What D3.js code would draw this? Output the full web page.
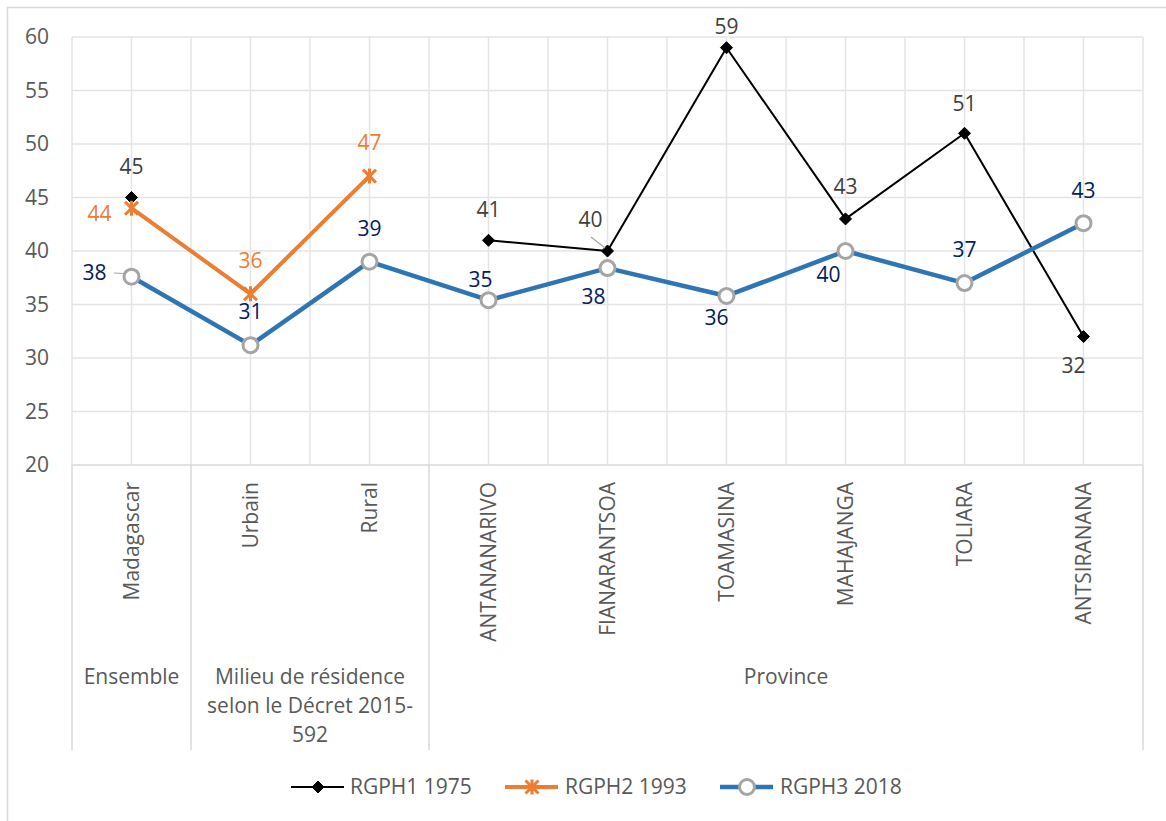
<!DOCTYPE html>
<html>
<head>
<meta charset="utf-8">
<script src="https://cdn.jsdelivr.net/npm/d3@7"></script>
<style>
  html, body { margin: 0; padding: 0; background: #fff; }
  svg { display: block; font-family: "Open Sans", "Noto Sans", sans-serif; }
</style>
</head>
<body>
<svg id="chart" width="1166" height="821"></svg>
<script>
// Categories (first level) and their groups (second level)
const categories = ["Madagascar", "Urbain", "Rural", "ANTANANARIVO", "FIANARANTSOA", "TOAMASINA", "MAHAJANGA", "TOLIARA", "ANTSIRANANA"];
const groupNames = ["Ensemble", "Milieu de résidence selon le Décret 2015-592", "Province"];
const groupSpans = [[0, 1], [1, 3], [3, 9]];

// Series values (null = no data)
const rgph1975 = [45, null, null, 41, 40, 59, 43, 51, 32];
const rgph1993 = [44, 36, 47, null, null, null, null, null, null];
const rgph2018 = [37.6, 31.2, 39.0, 35.4, 38.4, 35.8, 40.0, 37.0, 42.6];

const seriesNames = ["RGPH1 1975", "RGPH2 1993", "RGPH3 2018"];
const yTicks = [20, 25, 30, 35, 40, 45, 50, 55, 60];

// Label offsets (dx, dy) from each point
const labelOffsets1975 = [[0, -31], null, null, [0, -31], [-17, -31], [0, -21], [0, -32], [0, -30], [-10, 29]];
const labelOffsets1993 = [[-32, 5], [0, -33], [0, -33]];
const labelOffsets2018 = [[-37, -4], [0, -34], [0, -33], [-8, -21], [-14, 29], [-10, 22], [-17, 24], [0, -33], [0, -33]];

const FS = 21;
const svg = d3.select("#chart");
const plotLeft = 72, plotRight = 1143, plotTop = 37, plotBottom = 465;

const x = d3.scaleBand().domain(d3.range(categories.length)).range([plotLeft, plotRight]).paddingInner(0).paddingOuter(0);
const cx = i => x(i) + x.bandwidth() / 2;
const y = d3.scaleLinear().domain([20, 60]).range([plotBottom, plotTop]);

// outer chart frame
svg.append("rect").attr("x", 7.5).attr("y", 7.5).attr("width", 1180).attr("height", 830)
  .attr("fill", "none").attr("stroke", "#d9d9d9").attr("stroke-width", 1.5);

// horizontal gridlines
svg.append("g").selectAll("line").data(yTicks.filter(t => t > 20)).join("line")
  .attr("x1", plotLeft).attr("x2", plotRight).attr("y1", d => y(d)).attr("y2", d => y(d))
  .attr("stroke", "#e4e4e4").attr("stroke-width", 1.5);

// vertical gridlines at category centres and boundaries
const vLines = [];
for (let i = 0; i <= categories.length; i++) {
  vLines.push(plotLeft + i * x.step());
  if (i < categories.length) vLines.push(cx(i));
}
svg.append("g").selectAll("line").data(vLines).join("line")
  .attr("x1", d => d).attr("x2", d => d).attr("y1", plotTop).attr("y2", plotBottom)
  .attr("stroke", "#e4e4e4").attr("stroke-width", 1.5);

// category axis line
svg.append("line").attr("x1", plotLeft).attr("x2", plotRight).attr("y1", plotBottom).attr("y2", plotBottom)
  .attr("stroke", "#d9d9d9").attr("stroke-width", 1.5);

// group separators extending through the category label area
const sepIdx = [0, 1, 3, 9];
svg.append("g").selectAll("line").data(sepIdx).join("line")
  .attr("x1", d => plotLeft + d * x.step()).attr("x2", d => plotLeft + d * x.step())
  .attr("y1", plotBottom).attr("y2", 750)
  .attr("stroke", "#d9d9d9").attr("stroke-width", 1.5);

// y axis tick labels
svg.append("g").selectAll("text").data(yTicks).join("text")
  .attr("x", 49).attr("y", d => y(d)).attr("dy", "0.35em")
  .attr("text-anchor", "end").attr("font-size", FS).attr("fill", "#595959")
  .text(d => d);

// rotated category labels
svg.append("g").selectAll("text").data(categories).join("text")
  .attr("transform", (d, i) => `translate(${cx(i)},482) rotate(-90)`)
  .attr("text-anchor", "end").attr("dy", "0.35em")
  .attr("font-size", FS).attr("fill", "#595959")
  .text(d => d);

// group labels (wrapped)
const groupLines = [["Ensemble"], ["Milieu de résidence", "selon le Décret 2015-", "592"], ["Province"]];
groupSpans.forEach((s, gi) => {
  const gx = plotLeft + (s[0] + s[1]) / 2 * x.step();
  const t = svg.append("text").attr("x", gx).attr("y", 684)
    .attr("text-anchor", "middle").attr("font-size", FS).attr("fill", "#595959")
    .attr("aria-label", groupNames[gi]);
  groupLines[gi].forEach((ln, li) => {
    t.append("tspan").attr("x", gx).attr("dy", li === 0 ? 0 : 29).text(ln);
  });
});

// marker shapes
function drawMarker(g, type, px, py) {
  if (type === "diamond") {
    g.append("path").attr("d", `M${px},${py - 6}L${px + 6},${py}L${px},${py + 6}L${px - 6},${py}Z`)
      .attr("fill", "#000").attr("stroke", "#000").attr("stroke-width", 1);
  } else if (type === "star") {
    const r = 6.5;
    g.append("path").attr("d",
      `M${px - r},${py - r}L${px + r},${py + r}M${px - r},${py + r}L${px + r},${py - r}M${px},${py - r - 1}L${px},${py + r + 1}`)
      .attr("stroke", "#ED7D31").attr("stroke-width", 3).attr("fill", "none");
  } else {
    g.append("circle").attr("cx", px).attr("cy", py).attr("r", 7.5)
      .attr("fill", "#fff").attr("stroke", "#A5A5A5").attr("stroke-width", 3);
  }
}

const series = [
  { name: seriesNames[0], values: rgph1975, color: "#000000", width: 2, marker: "diamond", labelColor: "#404040", offsets: labelOffsets1975 },
  { name: seriesNames[1], values: rgph1993, color: "#ED7D31", width: 4, marker: "star", labelColor: "#ED7D31", offsets: labelOffsets1993 },
  { name: seriesNames[2], values: rgph2018, color: "#2E75B6", width: 4.5, marker: "circle", labelColor: "#002060", offsets: labelOffsets2018 }
];

const fmt = d3.format(".0f");
const line = d3.line().defined(d => d.v !== null).x(d => cx(d.i)).y(d => y(d.v));

series.forEach(s => {
  const pts = s.values.map((v, i) => ({ v, i }));
  const g = svg.append("g");
  g.append("path").datum(pts).attr("d", line)
    .attr("fill", "none").attr("stroke", s.color).attr("stroke-width", s.width)
    .attr("stroke-linejoin", "round");
  pts.filter(p => p.v !== null).forEach(p => drawMarker(g, s.marker, cx(p.i), y(p.v)));
});

// leader lines for displaced labels
svg.append("line").attr("x1", 591).attr("y1", 237).attr("x2", 605).attr("y2", 248)
  .attr("stroke", "#a6a6a6").attr("stroke-width", 1.2);
svg.append("line").attr("x1", 114).attr("y1", 273).attr("x2", 124).attr("y2", 273.5)
  .attr("stroke", "#a6a6a6").attr("stroke-width", 1.2);

// data labels
series.forEach(s => {
  const g = svg.append("g");
  s.values.forEach((v, i) => {
    if (v === null) return;
    const o = s.offsets[i];
    g.append("text").attr("x", cx(i) + o[0]).attr("y", y(v) + o[1]).attr("dy", "0.35em")
      .attr("text-anchor", "middle").attr("font-size", FS).attr("fill", s.labelColor)
      .text(fmt(v));
  });
});

// legend
const legendItems = [{ x0: 291, tx: 350 }, { x0: 505, tx: 565 }, { x0: 720, tx: 780 }];
const ly = 787;
series.forEach((s, k) => {
  const it = legendItems[k];
  const g = svg.append("g");
  g.append("line").attr("x1", it.x0).attr("x2", it.x0 + 53).attr("y1", ly).attr("y2", ly)
    .attr("stroke", s.color).attr("stroke-width", s.width);
  drawMarker(g, s.marker, it.x0 + 27, ly);
  g.append("text").attr("x", it.tx).attr("y", ly).attr("dy", "0.35em")
    .attr("font-size", FS).attr("fill", "#595959").text(s.name);
});
</script>
</body>
</html>
